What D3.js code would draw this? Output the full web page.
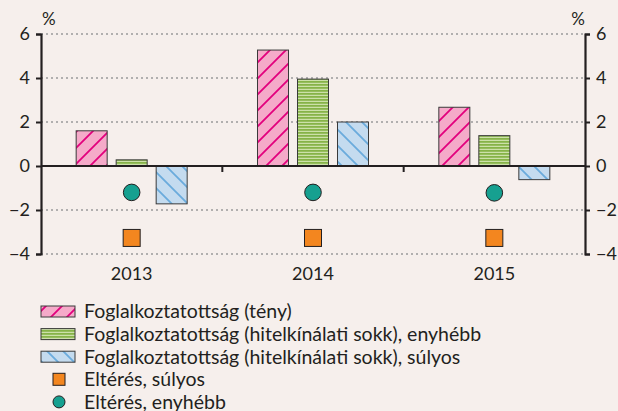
<!DOCTYPE html>
<html>
<head>
<meta charset="utf-8">
<script src="https://cdn.jsdelivr.net/npm/d3@7"></script>
<style>
  body { margin: 0; background: #f6efec; }
  svg { display: block; font-family: Lato, "Open Sans", sans-serif; }
</style>
</head>
<body>
<svg id="chart" width="618" height="411"></svg>
<script>
var years = ['2013', '2014', '2015'];
var teny = [1.6, 5.27, 2.67];
var enyhebb = [0.28, 3.95, 1.38];
var sulyos = [-1.72, 2.0, -0.62];
var elteres_sulyos = [-3.27, -3.27, -3.27];
var elteres_enyhebb = [-1.2, -1.2, -1.22];
var y_ticks = [-4, -2, 0, 2, 4, 6];
var legend_labels = [
  'Foglalkoztatottság (tény)',
  'Foglalkoztatottság (hitelkínálati sokk), enyhébb',
  'Foglalkoztatottság (hitelkínálati sokk), súlyos',
  'Eltérés, súlyos',
  'Eltérés, enyhébb'
];

var svg = d3.select('#chart');
var ink = '#231f20';
var plot_left = 41, plot_right = 585, plot_top = 34, plot_bottom = 254;

var x = d3.scaleBand().domain(years).range([plot_left, plot_right]);
var y = d3.scaleLinear().domain([-4, 6]).range([plot_bottom, plot_top]);
var bar_w = 31, bar_step = 40;

// patterns
var defs = svg.append('defs');
var p1 = defs.append('pattern').attr('id', 'pat-teny')
  .attr('patternUnits', 'userSpaceOnUse').attr('width', 16).attr('height', 16);
p1.append('rect').attr('width', 16).attr('height', 16).attr('fill', '#f5aac9');
p1.append('path').attr('d', 'M-4,4 L4,-4 M0,16 L16,0 M12,20 L20,12')
  .attr('stroke', '#e3007d').attr('stroke-width', 1.8);

var p2 = defs.append('pattern').attr('id', 'pat-enyhebb')
  .attr('patternUnits', 'userSpaceOnUse').attr('width', 4).attr('height', 3);
p2.append('rect').attr('width', 4).attr('height', 3).attr('fill', '#86b348');
p2.append('rect').attr('y', 1.8).attr('width', 4).attr('height', 1.1).attr('fill', '#d4e5b4');

var p3 = defs.append('pattern').attr('id', 'pat-sulyos')
  .attr('patternUnits', 'userSpaceOnUse').attr('width', 16).attr('height', 16);
p3.append('rect').attr('width', 16).attr('height', 16).attr('fill', '#c4dbef');
p3.append('path').attr('d', 'M-4,12 L4,20 M0,0 L16,16 M12,-4 L20,4')
  .attr('stroke', '#6aabdc').attr('stroke-width', 1.8);

// grid
svg.append('g').selectAll('line')
  .data(y_ticks.filter(function(d){ return d !== 0; }))
  .enter().append('line')
  .attr('x1', plot_left).attr('x2', plot_right)
  .attr('y1', function(d){ return y(d); }).attr('y2', function(d){ return y(d); })
  .attr('stroke', '#9a9a9a').attr('stroke-width', 1.3)
  .attr('stroke-dasharray', '2,3');

// bars
var series = [
  {vals: teny, fill: 'url(#pat-teny)'},
  {vals: enyhebb, fill: 'url(#pat-enyhebb)'},
  {vals: sulyos, fill: 'url(#pat-sulyos)'}
];
series.forEach(function(s, si){
  svg.append('g').selectAll('rect')
    .data(s.vals)
    .enter().append('rect')
    .attr('x', function(d, i){ return x(years[i]) + x.bandwidth() / 2 + (si - 1) * bar_step - bar_w / 2; })
    .attr('y', function(d){ return y(Math.max(0, d)); })
    .attr('width', bar_w)
    .attr('height', function(d){ return Math.abs(y(d) - y(0)); })
    .attr('fill', s.fill)
    .attr('stroke', '#3a3a3a').attr('stroke-width', 1);
});

// markers
svg.append('g').selectAll('circle')
  .data(elteres_enyhebb)
  .enter().append('circle')
  .attr('cx', function(d, i){ return x(years[i]) + x.bandwidth() / 2; })
  .attr('cy', function(d){ return y(d); })
  .attr('r', 8.3)
  .attr('fill', '#16a090').attr('stroke', ink).attr('stroke-width', 1);

svg.append('g').selectAll('rect')
  .data(elteres_sulyos)
  .enter().append('rect')
  .attr('x', function(d, i){ return x(years[i]) + x.bandwidth() / 2 - 8.5; })
  .attr('y', function(d){ return y(d) - 8.5; })
  .attr('width', 17).attr('height', 17)
  .attr('fill', '#f3861f').attr('stroke', ink).attr('stroke-width', 1);

// axes
var fmt = function(d){ return d < 0 ? '\u2212' + Math.abs(d) : d; };
var axis_left = svg.append('g').attr('transform', 'translate(' + plot_left + ',0)')
  .call(d3.axisLeft(y).tickValues(y_ticks).tickSize(5).tickPadding(6).tickFormat(fmt));
var axis_right = svg.append('g').attr('transform', 'translate(' + plot_right + ',0)')
  .call(d3.axisRight(y).tickValues(y_ticks).tickSize(5).tickPadding(6).tickFormat(fmt));
[axis_left, axis_right].forEach(function(a){
  a.select('.domain').attr('stroke', ink).attr('stroke-width', 2.2);
  a.selectAll('.tick line').attr('stroke', ink).attr('stroke-width', 2);
  a.selectAll('.tick text').attr('fill', ink).style('font-size', '18px')
    .style('font-family', 'Lato, sans-serif');
});

// zero line with ticks at band boundaries
svg.append('line')
  .attr('x1', plot_left).attr('x2', plot_right).attr('y1', y(0)).attr('y2', y(0))
  .attr('stroke', ink).attr('stroke-width', 2.2);
svg.append('g').selectAll('line')
  .data(years.slice(1))
  .enter().append('line')
  .attr('x1', function(d){ return x(d); }).attr('x2', function(d){ return x(d); })
  .attr('y1', y(0)).attr('y2', y(0) + 6)
  .attr('stroke', ink).attr('stroke-width', 2);

// x labels
svg.append('g').selectAll('text')
  .data(years)
  .enter().append('text')
  .attr('x', function(d){ return x(d) + x.bandwidth() / 2; })
  .attr('y', 280)
  .attr('text-anchor', 'middle')
  .style('font-size', '18px').attr('fill', ink)
  .text(function(d){ return d; });

// unit labels
svg.append('text').attr('x', 42).attr('y', 25).style('font-size', '17px').attr('fill', ink).text('%');
svg.append('text').attr('x', 585).attr('y', 25).attr('text-anchor', 'end').style('font-size', '17px').attr('fill', ink).text('%');

// legend
var leg_y0 = 311.5, leg_dy = 22.6;
var leg = svg.append('g');
var swatch_fills = ['url(#pat-teny)', 'url(#pat-enyhebb)', 'url(#pat-sulyos)'];
leg.selectAll('rect.sw')
  .data(swatch_fills)
  .enter().append('rect')
  .attr('class', 'sw')
  .attr('x', 41).attr('y', function(d, i){ return leg_y0 + i * leg_dy - 5.5; })
  .attr('width', 34).attr('height', 11)
  .attr('fill', function(d){ return d; })
  .attr('stroke', '#3a3a3a').attr('stroke-width', 1);
leg.append('rect')
  .attr('x', 53).attr('y', leg_y0 + 3 * leg_dy - 6)
  .attr('width', 12).attr('height', 12)
  .attr('fill', '#f3861f').attr('stroke', ink).attr('stroke-width', 1);
leg.append('circle')
  .attr('cx', 59).attr('cy', leg_y0 + 4 * leg_dy)
  .attr('r', 6)
  .attr('fill', '#16a090').attr('stroke', ink).attr('stroke-width', 1);
leg.selectAll('text')
  .data(legend_labels)
  .enter().append('text')
  .attr('x', 84).attr('y', function(d, i){ return leg_y0 + i * leg_dy; })
  .attr('dy', '0.35em')
  .style('font-size', '19.5px').attr('fill', ink)
  .text(function(d){ return d; });
</script>
</body>
</html>
